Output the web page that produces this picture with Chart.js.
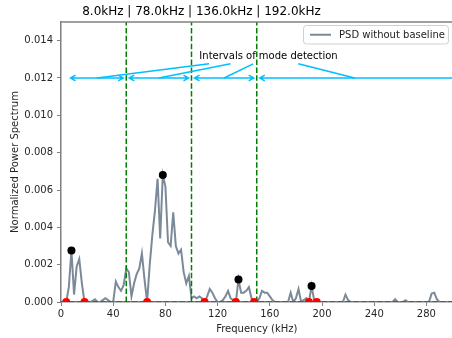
<!DOCTYPE html>
<html>
<head>
<meta charset="utf-8">
<script src="https://cdn.jsdelivr.net/npm/chart.js@4.4.1/dist/chart.umd.min.js"></script>
<style>
  html, body { margin: 0; padding: 0; background: #fff; overflow: hidden; }
</style>
</head>
<body>
<canvas id="psd-chart" width="462" height="338"></canvas>
<script>
// spectrum (kHz / normalized power)
var psdFreq = [0, 2, 4, 6, 8, 10, 12, 14, 16, 18, 22, 24, 26, 28, 30, 32, 34, 36, 38, 40,
  42, 44, 46, 48, 50, 52, 54, 56, 58, 60, 62, 64, 66, 68, 70, 72, 74, 76, 78, 80,
  82, 84, 86, 88, 90, 92, 94, 96, 98, 100, 102, 104, 106, 108, 110, 112, 114, 116, 118, 120,
  122, 124, 126, 128, 130, 132, 134, 136, 138, 140, 142, 144, 146, 148, 150, 152, 154, 156, 158, 160,
  162, 164, 174, 176, 178, 180, 182, 184, 186, 188, 190, 192, 194, 196, 216, 218, 220, 222, 254, 256,
  258, 262, 264, 266, 282, 284, 286, 288, 290, 300];
var psdValue = [0, 0, 0, 0.0008, 0.00276, 0.0004, 0.0019, 0.0023, 0.001, 0, 0, 0.00005, 0.00015, 0, 0, 0.0001, 0.0002, 0.0001, 0, 0,
  0.0011, 0.0008, 0.0006, 0.0009, 0.0018, 0.0016, 0.0003, 0.001, 0.0015, 0.0018, 0.0026, 0.0012, 0, 0.002, 0.0036, 0.0049, 0.0066, 0.0034, 0.0068, 0.0062,
  0.0032, 0.003, 0.0048, 0.003, 0.0026, 0.0028, 0.0016, 0.001, 0.0014, 0.0002, 0.0003, 0.0002, 0.0003, 0.0002, 0, 0.0003, 0.0007, 0.0005, 0.0002, 0,
  0, 0.0001, 0.0003, 0.0006, 0.0002, 0.0001, 0, 0.00121, 0.0005, 0.0005, 0.0006, 0.0008, 0.0002, 0, 0, 0.0002, 0.0006, 0.0005, 0.0005, 0.0003,
  0.0001, 0, 0, 0.0005, 0, 0.0002, 0.0007, 0, 0.0001, 0.0002, 0, 0.00086, 0.0001, 0, 0, 0.0004, 0.0001, 0, 0, 0.00015,
  0, 0, 0.0001, 0, 0, 0.00045, 0.0005, 0.00015, 0, 0];

var peakFreq = [8, 78, 136, 192];
var peakValue = [0.00276, 0.0068, 0.00121, 0.00086];
var minFreq = [4, 18, 66, 110, 134, 148, 190, 196];
var minValue = [0, 0, 0, 0, 0, 0, 0, 0];

var intervalEdges = [50, 100, 150];
var intervals = [[5, 50], [50, 100], [100, 150], [150, 310]];
var arrowLevel = 0.012;
var noteText = "Intervals of mode detection";
var notePos = [159, 0.01316];

var xTicks = [0, 40, 80, 120, 160, 200, 240, 280];
var yTicks = [0, 0.002, 0.004, 0.006, 0.008, 0.010, 0.012, 0.014];

var titleText = peakFreq.map(function (f) { return f.toFixed(1) + "kHz"; }).join(" | ");

function pts(xs, ys) {
  return xs.map(function (x, i) { return { x: x, y: ys[i] }; });
}

var GRAY = "rgba(112,128,144,0.92)";
var SPINE = "#808080";
var BLUE = "#00bfff";

Chart.defaults.font.family = "DejaVu Sans";
Chart.defaults.font.size = 10;
Chart.defaults.color = "#262626";

var datasets = [
  { label: "peaks", data: pts(peakFreq, peakValue), showLine: false, pointRadius: 4,
    pointBackgroundColor: "#000", pointBorderWidth: 0 },
  { label: "minima", data: pts(minFreq, minValue), showLine: false, pointRadius: 4,
    pointBackgroundColor: "#ff0000", pointBorderWidth: 0, clip: 0 }
];
intervalEdges.forEach(function (e) {
  datasets.push({ label: "edge", data: [{ x: e, y: 0 }, { x: e, y: 0.015 }],
    borderColor: "#008000", borderWidth: 1.5, borderDash: [5.5, 2.4], pointRadius: 0 });
});
datasets.push({ label: "baseline", data: [{ x: 0, y: 0 }, { x: 300, y: 0 }],
  borderColor: "#008000", borderWidth: 1.5, borderDash: [5.5, 2.4], pointRadius: 0 });
datasets.push({ label: "PSD without baseline", data: pts(psdFreq, psdValue),
  borderColor: GRAY, borderWidth: 2, pointRadius: 0, tension: 0 });

var overlay = {
  id: "overlay",
  afterDatasetsDraw: function (chart) {
    var c = chart.ctx, xs = chart.scales.x, ys = chart.scales.y;
    var ay = ys.getPixelForValue(arrowLevel);
    c.save();
    c.strokeStyle = BLUE;
    c.lineWidth = 1.5;
    // double headed arrows
    intervals.forEach(function (iv) {
      var a = xs.getPixelForValue(iv[0]) + 3, b = xs.getPixelForValue(iv[1]) - 3;
      c.beginPath();
      c.moveTo(a, ay); c.lineTo(b, ay);
      c.moveTo(a + 5, ay - 2.8); c.lineTo(a, ay); c.lineTo(a + 5, ay + 2.8);
      c.moveTo(b - 5, ay - 2.8); c.lineTo(b, ay); c.lineTo(b - 5, ay + 2.8);
      c.stroke();
    });
    // connectors from the note to each interval
    var tx = xs.getPixelForValue(notePos[0]), ty = ys.getPixelForValue(notePos[1]);
    intervals.forEach(function (iv) {
      var mx = xs.getPixelForValue((iv[0] + Math.min(iv[1], 300)) / 2);
      var t = 7.5 / (ay - ty);
      c.beginPath();
      c.moveTo(tx + (mx - tx) * t, ty + (ay - ty) * t);
      c.lineTo(mx, ay);
      c.stroke();
    });
    c.fillStyle = "#000";
    c.font = "10px 'DejaVu Sans'";
    c.textAlign = "center";
    c.textBaseline = "middle";
    c.fillText(noteText, tx, ty);
    c.restore();
  },
  afterDraw: function (chart) {
    var c = chart.ctx, ca = chart.chartArea;
    c.save();
    // top spine
    c.strokeStyle = SPINE;
    c.lineWidth = 1.5;
    c.beginPath();
    c.moveTo(ca.left, ca.top); c.lineTo(ca.right + 2, ca.top);
    c.stroke();
    // title
    c.fillStyle = "#000";
    c.font = "12px 'DejaVu Sans'";
    c.textAlign = "center";
    c.textBaseline = "middle";
    c.fillText(titleText, 201.5, 11.5);
    // legend box
    var lx = 303.5, ly = 25.5, lw = 145, lh = 18.5;
    c.beginPath();
    c.roundRect(lx, ly, lw, lh, 3);
    c.fillStyle = "rgba(255,255,255,0.85)";
    c.fill();
    c.strokeStyle = "#d0d0d0";
    c.lineWidth = 1;
    c.stroke();
    var ds = chart.data.datasets[chart.data.datasets.length - 1];
    c.strokeStyle = ds.borderColor;
    c.lineWidth = 2;
    c.beginPath();
    c.moveTo(310, ly + lh / 2); c.lineTo(331, ly + lh / 2);
    c.stroke();
    c.fillStyle = "#222";
    c.font = "10px 'DejaVu Sans'";
    c.textAlign = "left";
    c.fillText(ds.label, 339, ly + lh / 2 + 0.5);
    c.restore();
  }
};

new Chart(document.getElementById("psd-chart"), {
  type: "line",
  data: { datasets: datasets },
  plugins: [overlay],
  options: {
    responsive: false,
    animation: false,
    events: [],
    layout: { padding: { top: 22, right: 9.5, left: 0, bottom: 0 } },
    plugins: { legend: { display: false }, tooltip: { enabled: false }, title: { display: false } },
    scales: {
      x: {
        type: "linear", min: 0, max: 300,
        afterBuildTicks: function (s) { s.ticks = xTicks.map(function (v) { return { value: v }; }); },
        afterFit: function (s) { s.height = 36; },
        ticks: { padding: 2, maxRotation: 0, color: "#262626" },
        grid: { drawOnChartArea: false, drawTicks: true, tickLength: 4, color: SPINE },
        border: { color: SPINE, width: 1.5 },
        title: { display: true, text: "Frequency (kHz)", padding: { top: 0, bottom: 3 }, color: "#262626" }
      },
      y: {
        type: "linear", min: 0, max: 0.015,
        afterBuildTicks: function (s) { s.ticks = yTicks.map(function (v) { return { value: v }; }); },
        afterFit: function (s) { s.width = 61; },
        ticks: { padding: 4, color: "#262626", callback: function (v) { return v.toFixed(3); } },
        grid: { drawOnChartArea: false, drawTicks: true, tickLength: 4, color: SPINE },
        border: { color: SPINE, width: 1.5 },
        title: { display: true, text: "Normalized Power Spectrum", padding: { top: 9, bottom: 0 }, color: "#262626" }
      }
    }
  }
});
</script>
</body>
</html>
